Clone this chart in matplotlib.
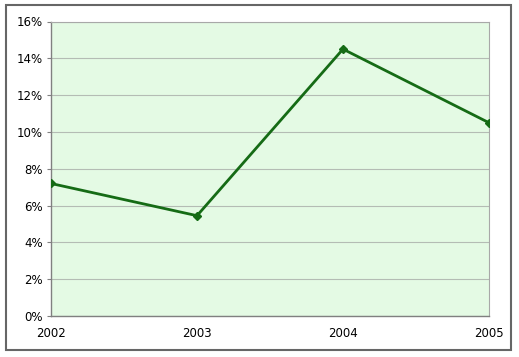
import matplotlib
matplotlib.use('Agg')

import matplotlib.pyplot as plt
from matplotlib.patches import Rectangle
from matplotlib.ticker import FuncFormatter

years = ['2002', '2003', '2004', '2005']
rates = [7.2, 5.45, 14.5, 10.5]  # percent
y_ticks = [0, 2, 4, 6, 8, 10, 12, 14, 16]

W, H = 519, 357
fig = plt.figure(figsize=(W / 100, H / 100), dpi=100)
fig.patch.set_facecolor('white')

# outer chart border
fig.patches.append(Rectangle((6 / W, 1 - 350 / H), 505 / W, 345 / H,
                             transform=fig.transFigure, fill=False,
                             edgecolor='#666666', linewidth=1.5))

ax = fig.add_axes([51 / W, 1 - 316 / H, 438 / W, 294.5 / H])
ax.set_facecolor('#e4fae4')

x = range(len(years))
ax.plot(x, rates, color='#156b15', linewidth=2, marker='D', markersize=4,
        zorder=3)

ax.set_xlim(0, len(years) - 1)
ax.set_ylim(0, 16)
ax.set_yticks(y_ticks)
ax.yaxis.set_major_formatter(FuncFormatter(lambda v, p: f'{v:.0f}%'))
ax.set_xticks(list(x))
ax.set_xticklabels(years)
ax.grid(axis='y', color='#b4bcb4', linewidth=0.8)
ax.set_axisbelow(True)

for side in ['top', 'right']:
    ax.spines[side].set_color('#a8a8a8')
    ax.spines[side].set_linewidth(0.8)
for side in ['left', 'bottom']:
    ax.spines[side].set_color('#808080')
    ax.spines[side].set_linewidth(1)

ax.tick_params(axis='y', length=3, color='#808080', labelsize=8.5, pad=3)
ax.tick_params(axis='x', length=0, labelsize=8.5, pad=8)

fig.savefig('out.png', dpi=100)
